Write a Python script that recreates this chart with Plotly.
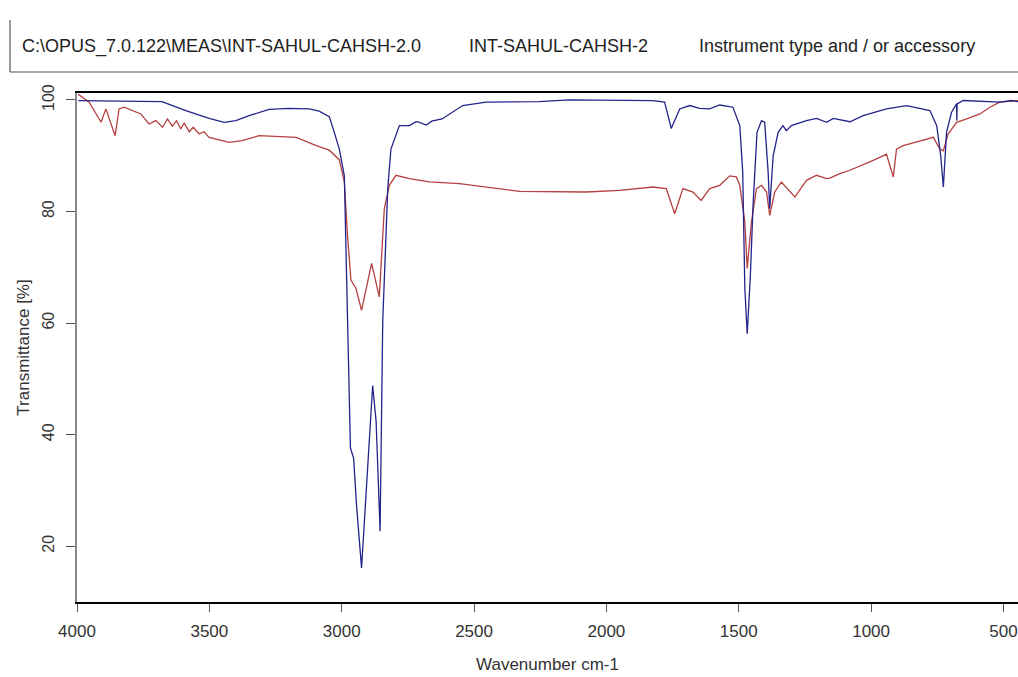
import plotly.graph_objects as go

# Blue spectrum (wavenumber cm-1, transmittance %)
blue_wn = [3995, 3900, 3800, 3679, 3589, 3501, 3444, 3400, 3350, 3274, 3200, 3123, 3085,
           3047, 3030, 3009, 2990, 2986, 2980, 2973, 2967, 2955, 2944, 2925, 2883, 2870,
           2855, 2845, 2826, 2814, 2782, 2744, 2719, 2706, 2681, 2660, 2621, 2543, 2455,
           2253, 2140, 1825, 1780, 1755, 1723, 1685, 1648, 1610, 1572, 1522, 1496, 1485,
           1477, 1468, 1456, 1446, 1431, 1414, 1402, 1389, 1383, 1370, 1351, 1333, 1320,
           1301, 1244, 1206, 1168, 1143, 1080, 1030, 942, 866, 815, 778, 752, 737, 727,
           715, 696, 677, 676, 675, 652, 563, 514, 469, 445]
blue_t = [99.9, 99.8, 99.8, 99.7, 98.1, 96.7, 96.0, 96.3, 97.2, 98.3, 98.5, 98.4, 98.0,
          97.0, 94.5, 91.2, 86.4, 78.2, 63.1, 50.0, 37.6, 35.8, 27.4, 16.1, 48.8, 42.4,
          22.7, 60.3, 84.1, 91.2, 95.4, 95.4, 96.1, 96.0, 95.5, 96.2, 96.6, 99.0, 99.6,
          99.7, 100.0, 99.9, 99.6, 94.9, 98.4, 99.0, 98.5, 98.4, 99.1, 98.7, 95.4, 87.1,
          66.2, 58.1, 68.6, 81.1, 94.2, 96.3, 96.0, 87.1, 80.5, 90.0, 94.2, 95.4, 94.5,
          95.4, 96.3, 96.7, 96.0, 96.7, 96.1, 97.2, 98.4, 99.0, 98.4, 98.1, 95.4, 90.0, 84.4,
          94.2, 97.8, 99.3, 96.3, 99.3, 99.9, 99.7, 99.6, 99.9, 99.7]

# Red spectrum
red_wn = [3995, 3954, 3909, 3891, 3856, 3841, 3822, 3759, 3728, 3702, 3677, 3658, 3640,
          3624, 3608, 3595, 3576, 3561, 3539, 3520, 3501, 3425, 3376, 3312, 3172, 3096,
          3047, 3009, 2990, 2978, 2965, 2946, 2925, 2887, 2858, 2839, 2820, 2795, 2744,
          2669, 2555, 2454, 2328, 2076, 1950, 1824, 1774, 1742, 1711, 1673, 1642, 1610,
          1572, 1534, 1509, 1496, 1477, 1468, 1452, 1433, 1414, 1395, 1383, 1364, 1339,
          1288, 1244, 1206, 1168, 1156, 1118, 1080, 1043, 1005, 967, 942, 916, 904, 879,
          815, 765, 740, 727, 709, 677, 639, 589, 551, 514, 445]
red_t = [101.0, 99.6, 96.0, 98.4, 93.6, 98.4, 98.7, 97.5, 95.7, 96.3, 95.1, 96.6, 95.3,
         96.3, 94.8, 95.9, 94.3, 95.1, 93.9, 94.3, 93.3, 92.4, 92.7, 93.6, 93.3, 91.8,
         91.0, 89.3, 85.3, 75.7, 67.7, 66.2, 62.3, 70.7, 64.7, 80.5, 84.7, 86.5, 85.9,
         85.3, 85.0, 84.4, 83.6, 83.5, 83.8, 84.4, 84.1, 79.6, 84.1, 83.5, 82.0, 84.1,
         84.7, 86.4, 86.2, 84.7, 78.1, 69.8, 78.1, 84.1, 84.7, 83.5, 79.3, 83.5, 85.3,
         82.6, 85.6, 86.5, 85.9, 86.0, 86.8, 87.4, 88.2, 88.9, 89.7, 90.3, 86.2, 91.2, 91.8,
         92.7, 93.3, 91.2, 90.9, 93.9, 96.0, 96.6, 97.5, 98.7, 99.6, 99.9]

x_ticks = [4000, 3500, 3000, 2500, 2000, 1500, 1000, 500]
y_ticks = [20, 40, 60, 80, 100]
header = ["C:\\OPUS_7.0.122\\MEAS\\INT-SAHUL-CAHSH-2.0", "INT-SAHUL-CAHSH-2",
          "Instrument type and / or accessory"]

FONT = "Liberation Sans, Arial, sans-serif"
W, H = 1018, 677
L, R, T, B = 77, 0, 93, 75

def px(xp):
    return (xp - L) / (W - L - R)

def py(yp):
    return (H - B - yp) / (H - T - B)

fig = go.Figure()
fig.add_trace(go.Scatter(x=red_wn, y=red_t, mode="lines",
                         line=dict(color="#b5403f", width=1.3), showlegend=False))
fig.add_trace(go.Scatter(x=blue_wn, y=blue_t, mode="lines",
                         line=dict(color="#23238c", width=1.3), showlegend=False))

fig.update_layout(
    width=W, height=H,
    margin=dict(l=L, r=R, t=T, b=B),
    paper_bgcolor="white", plot_bgcolor="white",
    font=dict(family=FONT, color="#333333", size=16),
    xaxis=dict(range=[4000, 445], tickvals=x_ticks, ticks="outside", ticklen=8,
               tickcolor="#555", showgrid=False, zeroline=False, showline=True,
               linecolor="black", linewidth=1.5, mirror=True, ticklabelstandoff=5,
               tickfont=dict(family=FONT, size=17, color="#333"),
               title=dict(text="Wavenumber cm-1", font=dict(family=FONT, size=17, color="#333"),
                          standoff=18)),
    yaxis=dict(range=[10, 101.25], tickvals=y_ticks, ticks="outside", ticklen=9,
               tickcolor="#555", showgrid=False, zeroline=False, showline=True,
               linecolor="#888", linewidth=2, tickangle=-90, ticklabelstandoff=6,
               tickfont=dict(family=FONT, size=16, color="#333"),
               title=dict(text="Transmittance [%]",
                          font=dict(family=FONT, size=17, color="#333"),
                          standoff=6)),
)

# header frame
fig.add_shape(type="line", xref="paper", yref="paper", x0=px(10), x1=px(10), y0=py(20), y1=py(72),
              line=dict(color="#555", width=1.2))
fig.add_shape(type="line", xref="paper", yref="paper", x0=px(10), x1=px(1018), y0=py(72), y1=py(72),
              line=dict(color="#555", width=1.2))
for txt, xp in zip(header, [20, 467, 697]):
    fig.add_annotation(text=txt, xref="paper", yref="paper", x=px(xp), y=py(46),
                       xanchor="left", yanchor="middle", showarrow=False,
                       font=dict(family=FONT, size=18, color="#222"))

fig.write_html("out.html")
